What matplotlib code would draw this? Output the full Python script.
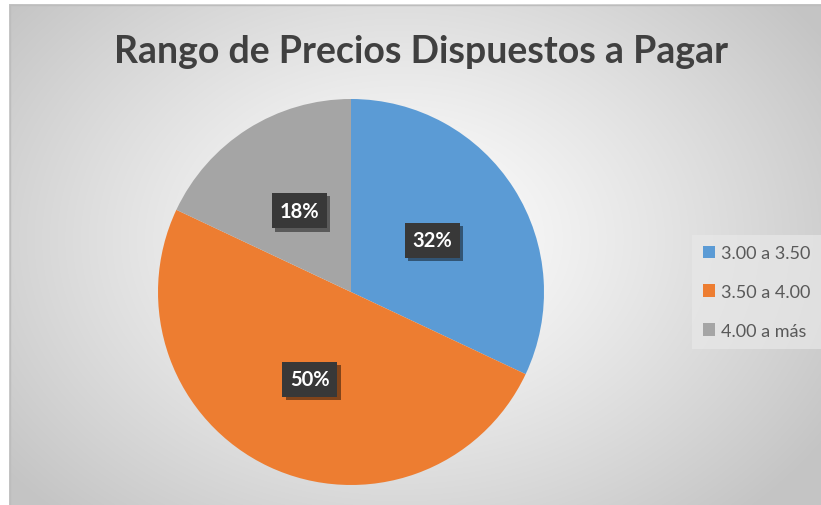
import numpy as np
import matplotlib
matplotlib.use("Agg")
import matplotlib.pyplot as plt
from matplotlib.patches import Patch
import matplotlib.patheffects as pe

# ---- data ----
categories = ["3.00 a 3.50", "3.50 a 4.00", "4.00 a más"]
values = [32, 50, 18]
colors = ["#5b9bd5", "#ed7d31", "#a5a5a5"]
title = "Rango de Precios Dispuestos a Pagar"

matplotlib.rcParams["hatch.color"] = "#4e4e4e"
matplotlib.rcParams["hatch.linewidth"] = 0.6

W, H = 821, 506
fig = plt.figure(figsize=(W / 100, H / 100), dpi=100)
fig.patch.set_facecolor("white")

# ---- background radial gradient (chart area) ----
x0p, y0p = 9, 5  # top-left of chart area in pixels
bg = fig.add_axes([x0p / W, 0, 1 - x0p / W, 1 - y0p / H])
bg.set_axis_off()
nx, ny = W - x0p, H - y0p
yy, xx = np.mgrid[0:ny, 0:nx]
cx, cy = 400 - x0p, 240 - y0p
d = np.sqrt(((xx - cx) / (nx * 0.62)) ** 2 + ((yy - cy) / (ny * 0.75)) ** 2)
d = np.clip(d, 0, 1)
lum = 1.0 - (1.0 - 0.77) * d ** 1.2
img = np.dstack([lum, lum, lum])
bg.imshow(img, aspect="auto", extent=[0, nx, ny, 0], interpolation="bilinear")
bg.set_xlim(0, nx)
bg.set_ylim(ny, 0)
bg.plot([0.5, 0.5, nx], [ny, 0.5, 0.5], color="#bdbdbd", lw=1.0)

# ---- title ----
fig.text(421 / W, 1 - 52 / H, title, ha="center", va="center",
         fontsize=27, fontweight="bold", color="#404040", family="Lato")

# ---- pie ----
cxp, cyp, R = 351, 293, 193
ax = fig.add_axes([(cxp - R) / W, (H - cyp - R) / H, 2 * R / W, 2 * R / H])
ax.set_axis_off()
wedges, texts, autotexts = ax.pie(
    values, colors=colors, startangle=90, counterclock=False,
    autopct="%1.0f%%", pctdistance=0.5, radius=1.0,
    wedgeprops=dict(linewidth=0),
    textprops=dict(color="white", fontsize=14.5, fontweight="bold", family="Lato"),
)
ax.set_xlim(-1, 1)
ax.set_ylim(-1, 1)
for t in autotexts:
    t.set_bbox(dict(boxstyle="square,pad=0.38", facecolor="#383838",
                    edgecolor="none", hatch="....", alpha=1))
    bp = t.get_bbox_patch()
    bp.set_path_effects([pe.SimplePatchShadow(offset=(2.5, -2.5), alpha=0.45,
                                               shadow_rgbFace="black"), pe.Normal()])

# ---- legend ----
handles = [Patch(facecolor=c, edgecolor="none") for c in colors]
leg = fig.legend(handles, categories, loc="center left",
                 bbox_to_anchor=(692 / W, 1 - 293 / H),
                 prop=dict(family="Lato", size=13), labelcolor="#595959",
                 frameon=True, fancybox=False, handlelength=0.7, handleheight=0.7,
                 handletextpad=0.3, labelspacing=1.25, borderpad=0.6,
                 borderaxespad=0)
leg.get_frame().set_facecolor("#e8e8e8")
leg.get_frame().set_edgecolor("none")
leg.get_frame().set_alpha(0.7)

fig.savefig("out.png", dpi=100)
